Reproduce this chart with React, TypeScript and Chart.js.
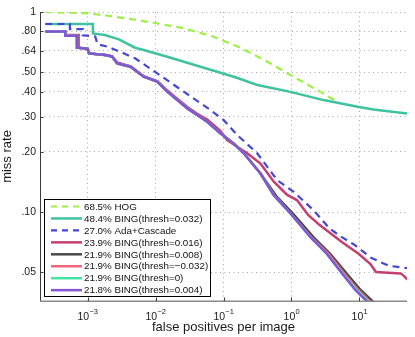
import React, { useEffect, useRef } from "react";
import { Chart, registerables } from "chart.js";

Chart.register(...registerables);

const FONT = '"Liberation Sans", Arial, Helvetica, sans-serif';

// ---------- data (false positives per image vs miss rate) ----------
const hogFppi = [2.4e-4, 1.0e-3, 2.0e-3, 4.5e-3, 9.3e-3, 0.026, 0.071, 0.178, 0.444, 0.967, 2.41, 4.4];
const hogMiss = [1.0, 0.985, 0.958, 0.92, 0.884, 0.829, 0.753, 0.663, 0.564, 0.484, 0.407, 0.361];

const bing032Fppi = [2.4e-4, 1.2e-3, 1.2e-3, 1.8e-3, 2.9e-3, 5.0e-3, 6.7e-3, 0.0149, 0.0459, 0.1417, 0.316, 0.967, 2.95, 9.4, 16, 51];
const bing032Miss = [0.871, 0.871, 0.782, 0.767, 0.73, 0.663, 0.646, 0.598, 0.533, 0.475, 0.432, 0.399, 0.363, 0.336, 0.326, 0.311];

const adaFppi = [2.4e-4, 5.5e-4, 5.5e-4, 8.5e-4, 8.5e-4, 1.3e-3, 1.4e-3, 2.0e-3, 3.4e-3, 5.0e-3, 0.0106, 0.026, 0.0644, 0.1, 0.159, 0.313, 0.616, 1.08, 2.13, 3.6, 5.5, 8.3, 15, 27, 51];
const adaMiss = [0.871, 0.871, 0.822, 0.822, 0.765, 0.755, 0.69, 0.67, 0.622, 0.587, 0.494, 0.4, 0.324, 0.289, 0.243, 0.197, 0.1445, 0.1263, 0.102, 0.083, 0.075, 0.069, 0.059, 0.054, 0.0525];

const bing016Fppi = [2.4e-4, 4.7e-4, 4.7e-4, 7.4e-4, 7.4e-4, 1.0e-3, 1.05e-3, 1.82e-3, 2.3e-3, 2.73e-3, 4.3e-3, 6.7e-3, 0.0106, 0.0149, 0.021, 0.0294, 0.041, 0.0576, 0.09, 0.113, 0.223, 0.35, 0.549, 0.865, 1.2, 1.77, 2.6, 5.5, 9.7, 14.5, 17.5, 40, 42, 51];
const bing016Miss = [0.8, 0.8, 0.767, 0.767, 0.663, 0.655, 0.621, 0.61, 0.6, 0.56, 0.535, 0.478, 0.452, 0.405, 0.368, 0.335, 0.31, 0.29, 0.255, 0.229, 0.197, 0.175, 0.142, 0.122, 0.115, 0.0966, 0.0862, 0.071, 0.062, 0.055, 0.0503, 0.0494, 0.049, 0.0461];

const bing008Fppi = [2.4e-4, 4.7e-4, 4.7e-4, 7.0e-4, 7.0e-4, 1.0e-3, 1.05e-3, 1.82e-3, 2.3e-3, 2.73e-3, 4.3e-3, 6.7e-3, 0.0106, 0.0149, 0.021, 0.0294, 0.041, 0.0576, 0.09, 0.1417, 0.199, 0.35, 0.6, 1.05, 2.1, 3.7, 6.3, 10.3, 15.5, 18];
const bing008Miss = [0.8, 0.8, 0.761, 0.761, 0.663, 0.655, 0.621, 0.61, 0.6, 0.554, 0.533, 0.475, 0.449, 0.4, 0.363, 0.33, 0.306, 0.283, 0.248, 0.22, 0.197, 0.156, 0.12, 0.0985, 0.075, 0.062, 0.05, 0.041, 0.036, 0.033];

const bingNeg032Fppi = [2.4e-4, 4.7e-4, 4.7e-4, 7.0e-4, 7.0e-4, 1.0e-3, 1.05e-3, 1.82e-3, 2.3e-3, 2.73e-3, 4.3e-3, 6.7e-3, 0.0106, 0.0149, 0.021, 0.0294, 0.041, 0.0576, 0.09, 0.1417, 0.199, 0.35, 0.549, 0.967, 1.95, 3.5, 5.8, 9.5, 14, 16];
const bingNeg032Miss = [0.8, 0.8, 0.761, 0.761, 0.663, 0.655, 0.621, 0.61, 0.6, 0.554, 0.533, 0.475, 0.449, 0.4, 0.363, 0.33, 0.306, 0.283, 0.248, 0.22, 0.197, 0.156, 0.1216, 0.0985, 0.075, 0.062, 0.05, 0.041, 0.036, 0.033];

const bing0Fppi = [2.4e-4, 4.7e-4, 4.7e-4, 7.0e-4, 7.0e-4, 1.0e-3, 1.05e-3, 1.82e-3, 2.3e-3, 2.73e-3, 4.3e-3, 6.7e-3, 0.0106, 0.0149, 0.021, 0.0294, 0.041, 0.0576, 0.09, 0.1417, 0.199, 0.35, 0.549, 0.967, 1.9, 3.3, 5.5, 9.0, 13.2, 15.5];
const bing0Miss = [0.8, 0.8, 0.761, 0.761, 0.663, 0.655, 0.621, 0.61, 0.6, 0.554, 0.533, 0.475, 0.449, 0.4, 0.363, 0.33, 0.306, 0.283, 0.248, 0.22, 0.197, 0.156, 0.1216, 0.0985, 0.075, 0.062, 0.05, 0.041, 0.036, 0.033];

const bing004Fppi = [2.4e-4, 4.7e-4, 4.7e-4, 7.0e-4, 7.0e-4, 1.0e-3, 1.05e-3, 1.82e-3, 2.3e-3, 2.73e-3, 4.3e-3, 6.7e-3, 0.0106, 0.0149, 0.021, 0.0294, 0.041, 0.0576, 0.09, 0.1417, 0.199, 0.35, 0.549, 0.967, 1.9, 3.3, 5.4, 8.6, 12.7, 15];
const bing004Miss = [0.8, 0.8, 0.761, 0.761, 0.663, 0.655, 0.621, 0.61, 0.6, 0.554, 0.533, 0.475, 0.449, 0.4, 0.363, 0.33, 0.306, 0.283, 0.248, 0.22, 0.197, 0.156, 0.1216, 0.0985, 0.075, 0.062, 0.05, 0.041, 0.036, 0.033];

const seriesLabels = [
  "68.5% HOG",
  "48.4% BING(thresh=0.032)",
  "27.0% Ada+Cascade",
  "23.9% BING(thresh=0.016)",
  "21.9% BING(thresh=0.008)",
  "21.9% BING(thresh=\u22120.032)",
  "21.9% BING(thresh=0)",
  "21.8% BING(thresh=0.004)",
];
const seriesFppi = [hogFppi, bing032Fppi, adaFppi, bing016Fppi, bing008Fppi, bingNeg032Fppi, bing0Fppi, bing004Fppi];
const seriesMiss = [hogMiss, bing032Miss, adaMiss, bing016Miss, bing008Miss, bingNeg032Miss, bing0Miss, bing004Miss];

const yTickValues = [0.05, 0.1, 0.2, 0.3, 0.4, 0.5, 0.64, 0.8, 1];
const yTickLabels = [".05", ".10", ".20", ".30", ".40", ".50", ".64", ".80", "1"];
const xTickExponents = [-3, -2, -1, 0, 1];

const xTitle = "false positives per image";
const yTitle = "miss rate";

// ---------- styles ----------
const seriesColors = ["#9cf046", "#3fc29f", "#4646d6", "#c43f6f", "#4a4a4a", "#f0667a", "#45e4a6", "#8456d6"];
const seriesDash: number[][] = [[7, 5], [], [7, 5], [], [], [], [], []];

const decorPlugin = {
  id: "decor",
  afterDraw(chart: any) {
    const { ctx, chartArea: a, scales } = chart;
    const xs = scales.x;
    const ys = scales.y;
    ctx.save();

    // axes
    ctx.setLineDash([]);
    ctx.strokeStyle = "#3a3a3a";
    ctx.lineWidth = 1;
    ctx.beginPath();
    ctx.moveTo(a.left + 0.5, a.top);
    ctx.lineTo(a.left + 0.5, a.bottom);
    ctx.stroke();
    ctx.strokeStyle = "#8a8a8a";
    ctx.lineWidth = 1.5;
    ctx.beginPath();
    ctx.moveTo(a.left, a.bottom + 0.25);
    ctx.lineTo(a.right, a.bottom + 0.25);
    ctx.stroke();

    // inward tick marks
    ctx.strokeStyle = "#3a3a3a";
    ctx.lineWidth = 1;
    for (const v of yTickValues) {
      const py = Math.round(ys.getPixelForValue(v)) + 0.5;
      ctx.beginPath();
      ctx.moveTo(a.left, py);
      ctx.lineTo(a.left + 3.5, py);
      ctx.stroke();
    }
    for (const e of xTickExponents) {
      const px = Math.round(xs.getPixelForValue(Math.pow(10, e))) + 0.5;
      ctx.beginPath();
      ctx.moveTo(px, a.bottom);
      ctx.lineTo(px, a.bottom - 3.5);
      ctx.stroke();
    }

    // x tick labels: 10^e
    ctx.fillStyle = "#1a1a1a";
    ctx.textBaseline = "alphabetic";
    ctx.textAlign = "left";
    for (const e of xTickExponents) {
      const px = xs.getPixelForValue(Math.pow(10, e));
      const base = "10";
      const sup = e < 0 ? "\u2212" + Math.abs(e) : String(e);
      ctx.font = `10.5px ${FONT}`;
      const w1 = ctx.measureText(base).width;
      ctx.font = `7.5px ${FONT}`;
      const w2 = ctx.measureText(sup).width;
      const start = px - (w1 + w2) / 2;
      ctx.font = `10.5px ${FONT}`;
      ctx.fillText(base, start, 319.5);
      ctx.font = `7.5px ${FONT}`;
      ctx.fillText(sup, start + w1 + 0.3, 313.5);
    }

    // axis titles
    ctx.font = `13px ${FONT}`;
    ctx.textAlign = "center";
    ctx.fillText(xTitle, (a.left + a.right) / 2, 331);
    ctx.save();
    ctx.translate(10.5, (a.top + a.bottom) / 2);
    ctx.rotate(-Math.PI / 2);
    ctx.fillText(yTitle, 0, 0);
    ctx.restore();

    // legend
    const lx = 44.5, ly = 199.5, lw = 166, lh = 97;
    ctx.fillStyle = "#ffffff";
    ctx.fillRect(lx, ly, lw, lh);
    ctx.strokeStyle = "#000000";
    ctx.lineWidth = 1;
    ctx.strokeRect(lx, ly, lw, lh);
    ctx.font = `9.8px ${FONT}`;
    ctx.textAlign = "left";
    ctx.textBaseline = "middle";
    seriesLabels.forEach((label, i) => {
      const cy = 206.5 + i * 11.95;
      ctx.strokeStyle = seriesColors[i];
      ctx.lineWidth = seriesDash[i].length ? 2.2 : 2.5;
      ctx.setLineDash(seriesDash[i].length ? [6, 5] : []);
      ctx.beginPath();
      ctx.moveTo(51, cy);
      ctx.lineTo(82, cy);
      ctx.stroke();
      ctx.setLineDash([]);
      ctx.fillStyle = "#111111";
      ctx.fillText(label, 84, cy + 0.5);
    });

    ctx.restore();
  },
};

export default function App() {
  const ref = useRef<HTMLCanvasElement | null>(null);

  useEffect(() => {
    if (!ref.current) return;
    const n = seriesLabels.length;
    const datasets = seriesLabels.map((label, i) => ({
      label,
      data: seriesFppi[i].map((x, j) => ({ x, y: seriesMiss[i][j] })),
      borderColor: seriesColors[i],
      backgroundColor: seriesColors[i],
      borderWidth: seriesDash[i].length ? 2.2 : 2.5,
      borderDash: seriesDash[i],
      pointRadius: 0,
      tension: 0,
      fill: false,
      order: n - 1 - i,
    }));

    const chart = new Chart(ref.current, {
      type: "line",
      data: { datasets },
      plugins: [decorPlugin],
      options: {
        animation: false,
        responsive: false,
        maintainAspectRatio: false,
        devicePixelRatio: 1,
        layout: { padding: { top: 12, right: 8, left: 0, bottom: 0 } },
        plugins: { legend: { display: false }, tooltip: { enabled: false } },
        scales: {
          x: {
            type: "logarithmic",
            min: 2e-4,
            max: 50,
            afterBuildTicks: (s: any) => {
              s.ticks = xTickExponents.map((e) => ({ value: Math.pow(10, e) }));
            },
            afterFit: (s: any) => {
              s.height = 36;
            },
            ticks: { display: false },
            grid: { color: "#a8a8a8", lineWidth: 1, drawTicks: false },
            border: { display: false, dash: [1, 3.5] },
          },
          y: {
            type: "logarithmic",
            min: 0.036,
            max: 1,
            afterBuildTicks: (s: any) => {
              s.ticks = yTickValues.map((v) => ({ value: v }));
            },
            afterFit: (s: any) => {
              s.width = 40;
            },
            ticks: {
              autoSkip: false,
              padding: 4,
              color: "#1a1a1a",
              font: { family: FONT, size: 10.5 },
              callback: (value: any) => {
                const i = yTickValues.indexOf(value);
                return i >= 0 ? yTickLabels[i] : "";
              },
            },
            grid: { color: "#a8a8a8", lineWidth: 1, drawTicks: false },
            border: { display: false, dash: [1, 3.5] },
          },
        },
      },
    });
    return () => chart.destroy();
  }, []);

  return (
    <div style={{ position: "fixed", left: 0, top: 0, width: 415, height: 337, background: "#fff" }}>
      <canvas ref={ref} width={415} height={337} style={{ display: "block", width: 415, height: 337 }} />
    </div>
  );
}
